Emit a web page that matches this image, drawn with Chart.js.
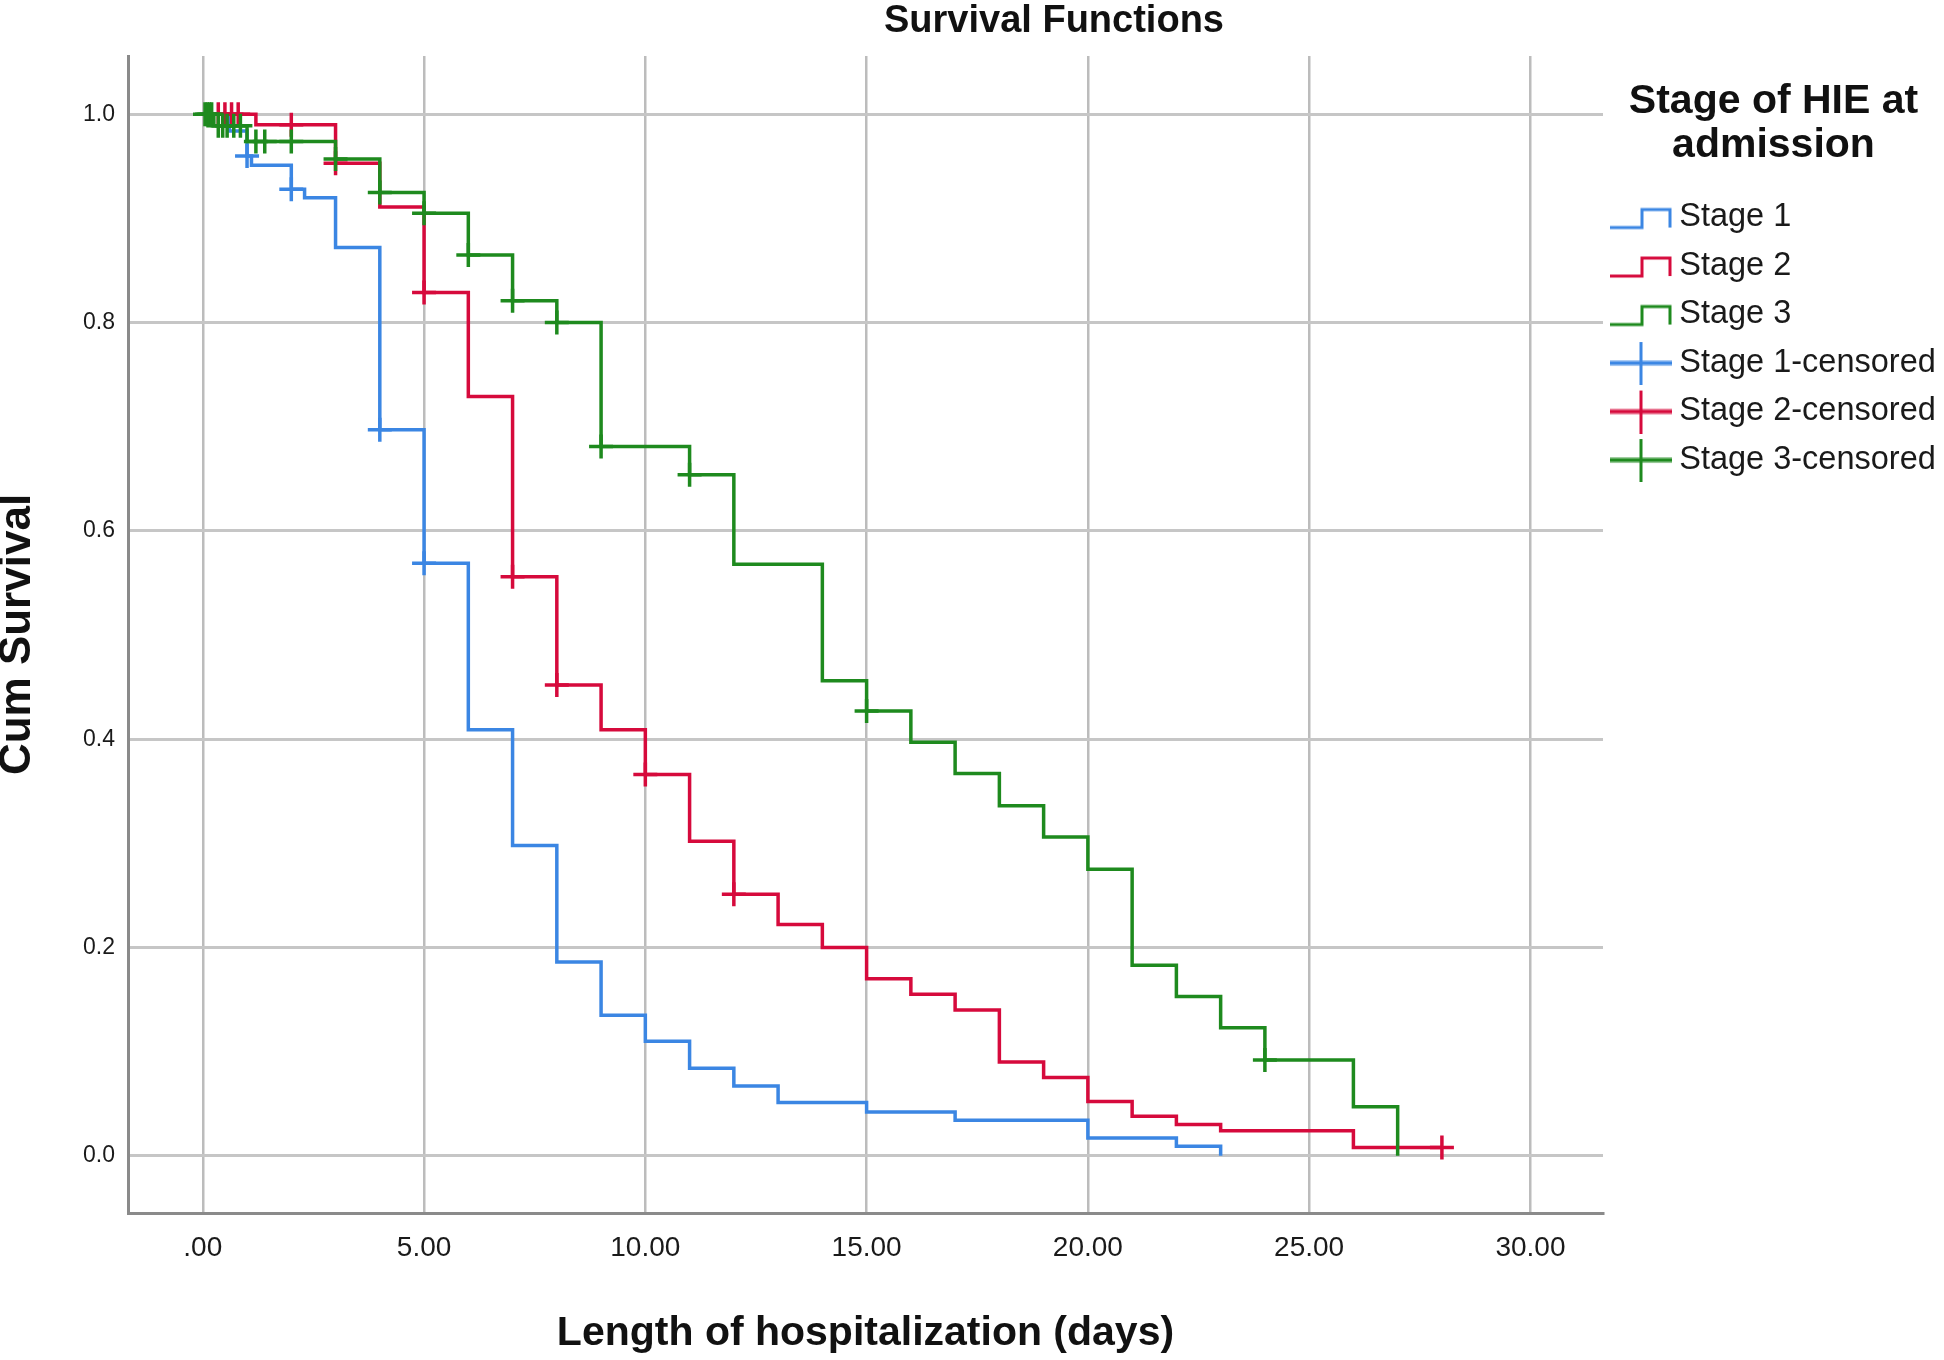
<!DOCTYPE html>
<html>
<head>
<meta charset="utf-8">
<script src="https://cdn.jsdelivr.net/npm/chart.js@4.4.1/dist/chart.umd.min.js"></script>
<style>
  html, body { margin: 0; background: #fff; }
  #wrap { width: 1944px; height: 1360px; }
</style>
</head>
<body>
<div id="wrap"><canvas id="km" width="1944" height="1360"></canvas></div>
<script>
const CHART_TITLE = 'Survival Functions';
const LEGEND_TITLE = ['Stage of HIE at', 'admission'];
const X_TITLE = 'Length of hospitalization (days)';
const Y_TITLE = 'Cum Survival';

const xTickValues = [0, 5, 10, 15, 20, 25, 30];
const xTickLabels = ['.00', '5.00', '10.00', '15.00', '20.00', '25.00', '30.00'];
const yTickValues = [0, 0.2, 0.4, 0.6, 0.8, 1.0];
const yTickLabels = ['0.0', '0.2', '0.4', '0.6', '0.8', '1.0'];

const seriesNames = ['Stage 1', 'Stage 2', 'Stage 3'];
const seriesColors = ['#3b86e3', '#d60a3c', '#1e8a1e'];

// Kaplan-Meier steps (day the step happens, survival after it)
const stage1Days = [0, 0.6, 1, 1.1, 2, 2.3, 3, 4, 5, 6, 7, 8, 9, 10, 11, 12, 13, 15, 17, 20, 22, 23];
const stage1Surv = [1, 0.984, 0.96, 0.951, 0.928, 0.92, 0.872, 0.697, 0.569, 0.409, 0.298, 0.186, 0.135, 0.11, 0.084, 0.067, 0.051, 0.042, 0.034, 0.017, 0.009, 0];
const stage2Days = [0, 1.2, 3, 4, 5, 6, 7, 8, 9, 10, 11, 12, 13, 14, 15, 16, 17, 18, 19, 20, 21, 22, 23, 26, 28];
const stage2Surv = [1, 0.99, 0.953, 0.911, 0.829, 0.729, 0.556, 0.452, 0.409, 0.366, 0.302, 0.251, 0.222, 0.2, 0.17, 0.155, 0.14, 0.09, 0.075, 0.052, 0.038, 0.03, 0.024, 0.008, 0.008];
const stage3Days = [0, 0.25, 1, 3, 4, 5, 6, 7, 8, 9, 11, 12, 14, 15, 16, 17, 18, 19, 20, 21, 22, 23, 24, 26, 27];
const stage3Surv = [1, 0.989, 0.974, 0.957, 0.925, 0.905, 0.865, 0.821, 0.8, 0.681, 0.654, 0.568, 0.456, 0.427, 0.397, 0.367, 0.336, 0.306, 0.275, 0.183, 0.153, 0.123, 0.092, 0.047, 0];

// censored marks
const stage1CensDays = [1, 2, 4, 5];
const stage1CensSurv = [0.96, 0.928, 0.697, 0.569];
const stage2CensDays = [0.35, 0.5, 0.65, 0.8, 2, 3, 5, 7, 8, 10, 12, 28];
const stage2CensSurv = [1, 1, 1, 1, 0.99, 0.953, 0.829, 0.556, 0.452, 0.366, 0.251, 0.008];
const stage3CensDays = [0.05, 0.1, 0.15, 0.2, 0.35, 0.45, 0.55, 0.7, 0.85, 1.2, 1.4, 2, 3, 4, 5, 6, 7, 8, 9, 11, 15, 24];
const stage3CensSurv = [1, 1, 1, 1, 0.989, 0.989, 0.989, 0.989, 0.989, 0.974, 0.974, 0.974, 0.957, 0.925, 0.905, 0.865, 0.821, 0.8, 0.681, 0.654, 0.427, 0.092];

const FONT = '"Liberation Sans", Arial, sans-serif';

const toPoints = (xs, ys) => xs.map((x, i) => ({x: x, y: ys[i]}));

// little canvases for the legend symbols
const stepIcon = (color) => {
  const c = document.createElement('canvas');
  c.width = 62; c.height = 40;
  const g = c.getContext('2d');
  g.strokeStyle = color;
  g.lineWidth = 3;
  g.beginPath();
  g.moveTo(0, 30);
  g.lineTo(32, 30);
  g.lineTo(32, 12);
  g.lineTo(60, 12);
  g.lineTo(60, 30);
  g.stroke();
  return c;
};

const crossIcon = (color) => {
  const c = document.createElement('canvas');
  c.width = 62; c.height = 44;
  const g = c.getContext('2d');
  g.strokeStyle = color;
  g.globalAlpha = 0.45;
  g.lineWidth = 6;
  g.beginPath();
  g.moveTo(0, 22); g.lineTo(62, 22);
  g.stroke();
  g.globalAlpha = 1;
  g.lineWidth = 3;
  g.beginPath();
  g.moveTo(0, 22); g.lineTo(62, 22);
  g.moveTo(31, 1); g.lineTo(31, 44);
  g.stroke();
  return c;
};

const lineSets = [
  toPoints(stage1Days, stage1Surv),
  toPoints(stage2Days, stage2Surv),
  toPoints(stage3Days, stage3Surv)
];
const censSets = [
  toPoints(stage1CensDays, stage1CensSurv),
  toPoints(stage2CensDays, stage2CensSurv),
  toPoints(stage3CensDays, stage3CensSurv)
];

const legendIcons = seriesColors.map(stepIcon).concat(seriesColors.map(crossIcon));

const datasets = [];
seriesNames.forEach((name, i) => {
  datasets.push({
    type: 'line',
    label: name,
    data: lineSets[i],
    borderColor: seriesColors[i],
    backgroundColor: seriesColors[i],
    borderWidth: 3.5,
    stepped: 'before',
    pointRadius: 0,
    fill: false,
    order: 3 - i
  });
});
seriesNames.forEach((name, i) => {
  datasets.push({
    type: 'scatter',
    label: name + '-censored',
    data: censSets[i],
    borderColor: seriesColors[i],
    backgroundColor: seriesColors[i],
    pointStyle: 'cross',
    pointRadius: 12,
    borderWidth: 3.5,
    order: 3 - i
  });
});

const titlePlugin = {
  id: 'plotTitle',
  afterDraw: (chart) => {
    const ctx = chart.ctx;
    ctx.save();
    ctx.fillStyle = '#111';
    ctx.font = 'bold 38px ' + FONT;
    ctx.textAlign = 'center';
    ctx.textBaseline = 'middle';
    ctx.fillText(CHART_TITLE, 1054, 22);
    ctx.restore();
  }
};

const config = {
  data: {datasets: datasets},
  options: {
    responsive: false,
    animation: false,
    devicePixelRatio: 1,
    layout: {padding: {top: 56, left: 0, right: 0, bottom: 0}},
    plugins: {
      title: {display: false},
      tooltip: {enabled: false},
      legend: {
        position: 'right',
        align: 'start',
        maxWidth: 341,
        title: {
          display: true,
          text: LEGEND_TITLE,
          color: '#111',
          font: {family: FONT, size: 41, weight: 'bold', lineHeight: 1.08},
          padding: {top: 25, bottom: 60}
        },
        labels: {
          usePointStyle: true,
          pointStyleWidth: 44,
          padding: 16,
          color: '#1a1a1a',
          font: {family: FONT, size: 32.5},
          generateLabels: (chart) => {
            const items = Chart.defaults.plugins.legend.labels.generateLabels(chart);
            items.sort((a, b) => a.datasetIndex - b.datasetIndex);
            items.forEach(item => {
              item.pointStyle = legendIcons[item.datasetIndex];
              item.rotation = 0;
            });
            return items;
          }
        }
      }
    },
    scales: {
      x: {
        type: 'linear',
        min: -1.69,
        max: 31.64,
        afterBuildTicks: (axis) => { axis.ticks = xTickValues.map(v => ({value: v})); },
        afterFit: (axis) => { axis.height = 147; },
        ticks: {
          padding: 18,
          color: '#1a1a1a',
          font: {family: FONT, size: 28},
          maxRotation: 0,
          callback: (v, i) => xTickLabels[i]
        },
        grid: {color: '#bcbcbc', lineWidth: 2.5, drawTicks: false},
        border: {color: '#8a8a8a', width: 3},
        title: {
          display: true,
          text: X_TITLE,
          color: '#111',
          font: {family: FONT, size: 41, weight: 'bold', lineHeight: 1},
          padding: {top: 0, bottom: 6}
        }
      },
      y: {
        type: 'linear',
        min: -0.055,
        max: 1.056,
        afterBuildTicks: (axis) => { axis.ticks = yTickValues.map(v => ({value: v})); },
        afterFit: (axis) => { axis.width = 128; },
        ticks: {
          padding: 13,
          color: '#1a1a1a',
          font: {family: FONT, size: 23},
          callback: (v, i) => yTickLabels[i]
        },
        grid: {color: '#c6c6c6', lineWidth: 3, drawTicks: false},
        border: {color: '#8a8a8a', width: 3},
        title: {
          display: true,
          text: Y_TITLE,
          color: '#111',
          font: {family: FONT, size: 44, weight: 'bold', lineHeight: 1},
          padding: {top: -4, bottom: 0}
        }
      }
    }
  },
  plugins: [titlePlugin]
};

const chart = new Chart(document.getElementById('km'), config);
</script>
</body>
</html>
